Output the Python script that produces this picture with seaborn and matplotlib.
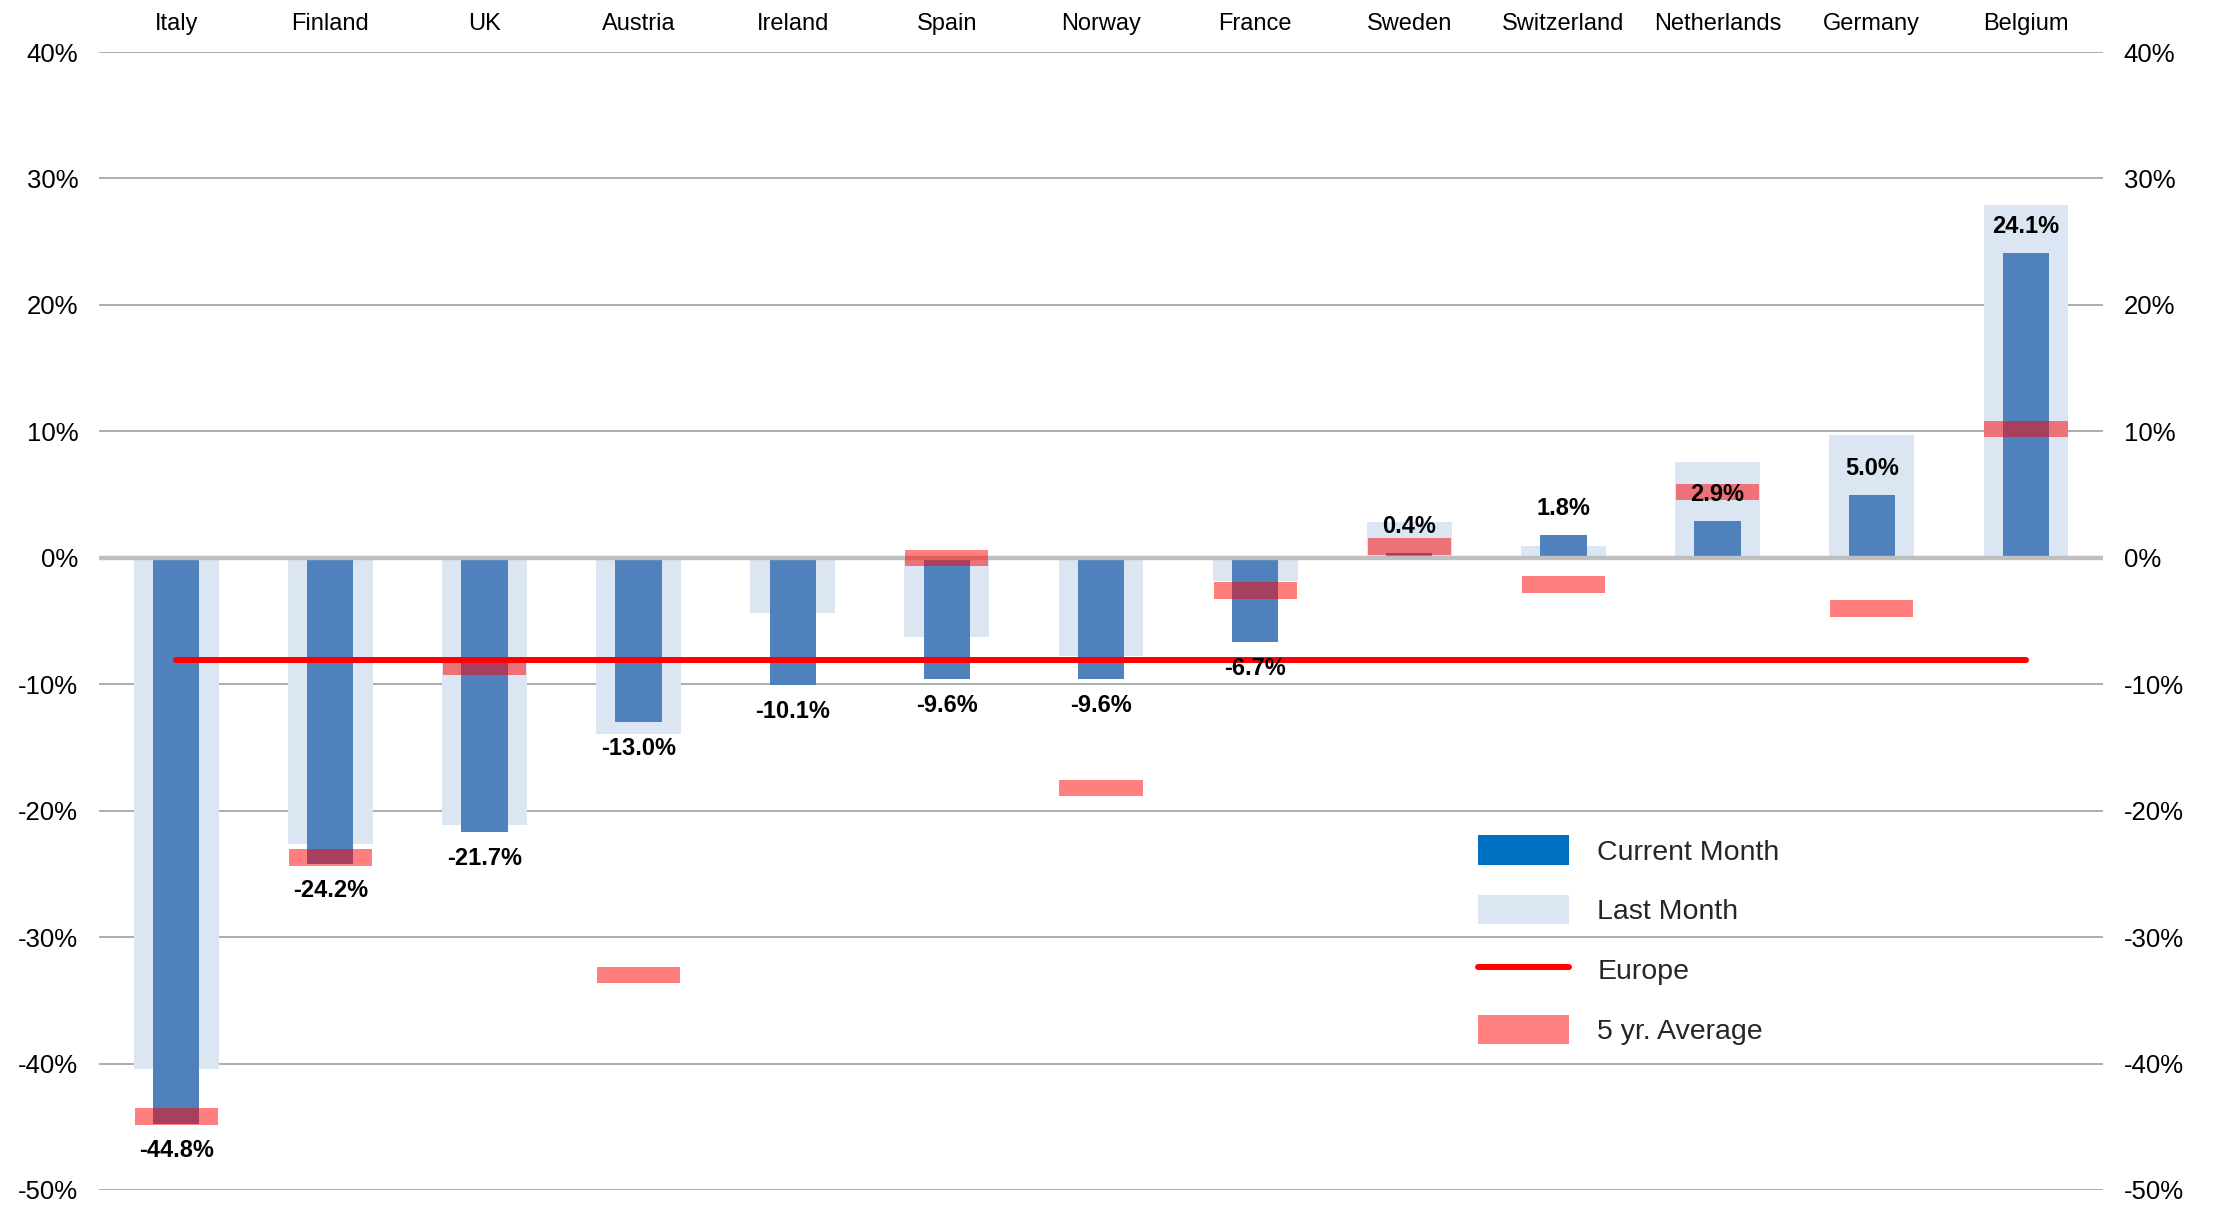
import numpy as np
import matplotlib.pyplot as plt
import seaborn as sns
from matplotlib.patches import Patch
from matplotlib.lines import Line2D
from matplotlib.ticker import FuncFormatter, MultipleLocator

# Data (percent change)
countries = ["Italy", "Finland", "UK", "Austria", "Ireland", "Spain", "Norway",
             "France", "Sweden", "Switzerland", "Netherlands", "Germany", "Belgium"]
current_month = [-44.8, -24.2, -21.7, -13.0, -10.1, -9.6, -9.6, -6.7, 0.4, 1.8, 2.9, 5.0, 24.1]
last_month = [-40.4, -22.6, -21.1, -13.9, -4.4, -6.3, -7.8, -1.8, 2.8, 0.9, 7.6, 9.7, 27.9]
avg_5yr = [-44.2, -23.7, -8.6, -33.0, np.nan, 0.0, -18.2, -2.6, 0.9, -2.1, 5.2, -4.0, 10.2]
europe = -8.1

sns.set_theme(style="white")
plt.rcParams['font.family'] = ['Liberation Sans', 'DejaVu Sans']

fig = plt.figure(figsize=(22.16, 12.05), dpi=100)
ax = fig.add_axes([0.0447, 0.0125, 0.9043, 0.9443])

# Bars: last month (wide, light) and current month (narrow, blue)
sns.barplot(x=countries, y=last_month, color="#DCE6F2", width=0.55,
            saturation=1, linewidth=0, ax=ax, zorder=1)
sns.barplot(x=countries, y=current_month, color="#4F81BD", width=0.3,
            saturation=1, linewidth=0, ax=ax, zorder=2)

pos = np.arange(len(countries))

# zero line
ax.axhline(0, color="#BFBFBF", lw=3.2, zorder=2.5)

# 5 year average markers
avg = np.array(avg_5yr)
ok = ~np.isnan(avg)
ax.bar(pos[ok], 1.3, bottom=avg[ok] - 0.65, width=0.54, color="red",
       alpha=0.5, linewidth=0, zorder=3)

# Europe line
ax.plot([pos[0], pos[-1]], [europe, europe], color="red", lw=4.3,
        solid_capstyle="round", zorder=4)

# Data labels
for i, v in enumerate(current_month):
    off = 19 if v >= 0 else -19
    ax.annotate(f"{v:.1f}%", xy=(i, v), xytext=(0, off), textcoords="offset points",
                ha="center", va="center", fontsize=17, fontweight="bold",
                color="black", zorder=5)

# Axes styling
ax.set_ylim(-50, 40)
ax.set_xlim(-0.5, 12.5)
ax.yaxis.set_major_locator(MultipleLocator(10))
ax.yaxis.set_major_formatter(FuncFormatter(lambda v, p: f"{v:.0f}%"))
ax.yaxis.grid(True, color="#A6A6A6", lw=1.3)
ax.set_axisbelow(True)
for s in ax.spines.values():
    s.set_visible(False)

ax.xaxis.tick_top()
ax.tick_params(axis="x", length=0, pad=12, labelsize=17, labelcolor="black")
ax.tick_params(axis="y", length=0, pad=15, labelsize=18.5, labelcolor="black",
               labelleft=True, labelright=True)
ax.set_xlabel("")
ax.set_ylabel("")

# Legend
handles = [
    Patch(facecolor="#0070C0", edgecolor="none"),
    Patch(facecolor="#DCE6F2", edgecolor="none"),
    Line2D([0], [0], color="red", lw=4.3),
    Patch(facecolor="#FF8080", edgecolor="none"),
]
labels = ["Current Month", "Last Month", "Europe", "5 yr. Average"]
ax.legend(handles, labels, loc="upper left", bbox_to_anchor=(0.6605, 0.3185),
          bbox_transform=fig.transFigure, frameon=False, fontsize=20.5,
          handlelength=3.2, handleheight=1.2, handletextpad=1.0,
          labelspacing=1.04, borderpad=0)

fig.savefig("out.png", dpi=100)
